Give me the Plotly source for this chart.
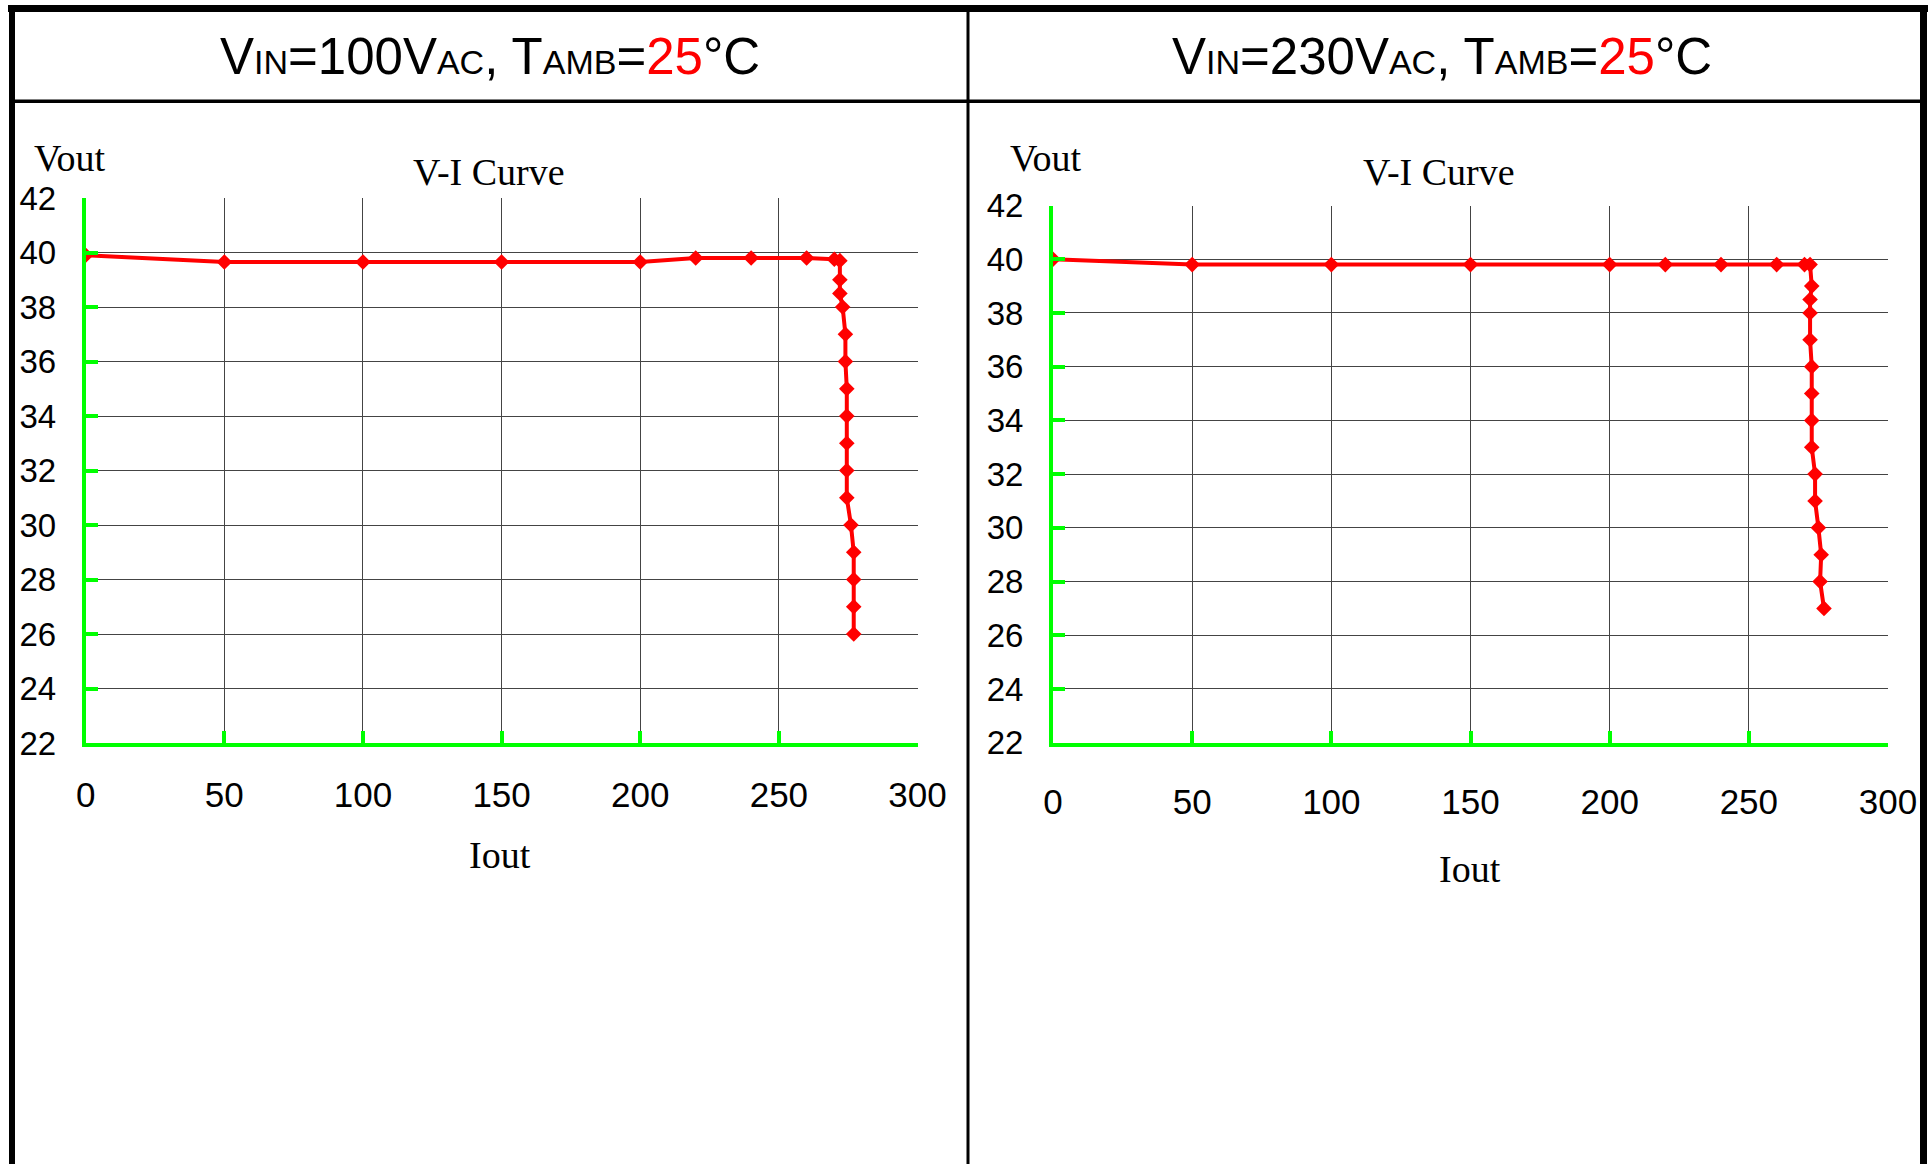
import plotly.graph_objects as go

# ---- data: output voltage vs output current ----
iout_100 = [0, 50, 100, 150, 200, 220, 240, 260, 270, 272, 272, 272, 273, 274, 274,
            274.5, 274.5, 274.5, 274.5, 274.5, 276, 277, 277, 277, 277]
vout_100 = [39.9, 39.65, 39.65, 39.65, 39.65, 39.8, 39.8, 39.8, 39.75, 39.7, 39, 38.5, 38, 37, 36,
            35, 34, 33, 32, 31, 30, 29, 28, 27, 26]

iout_230 = [0, 50, 100, 150, 200, 220, 240, 260, 270, 272, 272.6, 272, 272, 272, 272.6,
            272.6, 272.6, 272.6, 273.8, 273.8, 275, 276, 275.6, 277]
vout_230 = [40, 39.8, 39.8, 39.8, 39.8, 39.8, 39.8, 39.8, 39.8, 39.8, 39, 38.5, 38, 37, 36,
            35, 34, 33, 32, 31, 30, 29, 28, 27]

x_ticks = [0, 50, 100, 150, 200, 250, 300]
y_ticks = [22, 24, 26, 28, 30, 32, 34, 36, 38, 40, 42]

SUB = '<span style="font-size:34px">{}</span>'
panel_titles = [
    "V" + SUB.format("IN") + "=100V" + SUB.format("AC") + ", T" + SUB.format("AMB")
    + '=<span style="color:#FF0000">25</span>°C',
    "V" + SUB.format("IN") + "=230V" + SUB.format("AC") + ", T" + SUB.format("AMB")
    + '=<span style="color:#FF0000">25</span>°C',
]

W, H = 1931, 1164
SANS = "Liberation Sans Narrow, Arial Narrow, Liberation Sans, Arial"
SERIF = "Liberation Serif, Times New Roman, serif"
GREEN = "#00FF00"
RED = "#FF0000"


def px(x):
    return x / W


def py(y):
    return 1 - y / H


fig = go.Figure()

for i, (xs, ys) in enumerate([(iout_100, vout_100), (iout_230, vout_230)]):
    sfx = "" if i == 0 else str(i + 1)
    fig.add_trace(go.Scatter(
        x=xs, y=ys, mode="lines+markers",
        line=dict(color=RED, width=4),
        marker=dict(symbol="diamond", size=12, color=RED),
        xaxis="x" + sfx, yaxis="y" + sfx, showlegend=False,
        hoverinfo="x+y",
    ))

# plot-area placement and tick-label offsets for each panel (pixels)
areas = [
    dict(x0=85.7, x1=917.5, y_top=198, y_bot=743, xstand=18, ystand=19),
    dict(x0=1053, x1=1888, y_top=205.5, y_bot=742.7, xstand=25, ystand=19),
]

common_x = dict(
    range=[0, 300], tickvals=x_ticks, ticks="inside", ticklen=12, tickwidth=3.5,
    tickcolor=GREEN, showline=True, linecolor=GREEN, linewidth=4,
    showgrid=True, gridcolor="#444444", gridwidth=1, zeroline=False,
    tickfont=dict(family=SANS, size=35, color="#000000"), fixedrange=True,
    automargin=False,
)
common_y = dict(
    range=[22, 42], tickvals=y_ticks, ticks="inside", ticklen=12, tickwidth=3.5,
    tickcolor=GREEN, showline=True, linecolor=GREEN, linewidth=4,
    showgrid=True, gridcolor="#444444", gridwidth=1, zeroline=False,
    tickfont=dict(family=SANS, size=33, color="#000000"), fixedrange=True,
    automargin=False,
)

layout = dict(
    width=W, height=H, margin=dict(l=0, r=0, t=0, b=0, pad=0, autoexpand=False),
    paper_bgcolor="#FFFFFF", plot_bgcolor="#FFFFFF", showlegend=False,
)
for i, a in enumerate(areas):
    sfx = "" if i == 0 else str(i + 1)
    layout["xaxis" + sfx] = dict(common_x, domain=[px(a["x0"]), px(a["x1"])],
                                 anchor="y" + sfx, ticklabelstandoff=a["xstand"])
    layout["yaxis" + sfx] = dict(common_y, domain=[py(a["y_bot"]), py(a["y_top"])],
                                 anchor="x" + sfx, ticklabelstandoff=a["ystand"])
fig.update_layout(**layout)

# ---- table frame ----
frame = [
    (8, 5, 1928, 12),        # top border
    (9, 5, 15, H),           # left border
    (1920, 5, 1927, H),      # right border
    (966.5, 5, 969.5, H),    # centre divider
    (9, 99.5, 1927, 103),    # header separator
]
for x0, y0, x1, y1 in frame:
    fig.add_shape(type="rect", xref="paper", yref="paper",
                  x0=px(x0), x1=px(x1), y0=py(y1), y1=py(y0),
                  fillcolor="#000000", line=dict(width=0), layer="above")


# ---- texts ----
def label(text, x, y, family, size, color="#000000"):
    fig.add_annotation(text=text, x=px(x), y=py(y), xref="paper", yref="paper",
                       showarrow=False, xanchor="center", yanchor="middle",
                       font=dict(family=family, size=size, color=color))


label(panel_titles[0], 490, 56, SANS, 51)
label(panel_titles[1], 1442, 56, SANS, 51)

label("V-I Curve", 489, 172, SERIF, 38)
label("V-I Curve", 1439, 172, SERIF, 38)
label("Vout", 70, 158, SERIF, 38)
label("Vout", 1046, 158, SERIF, 38)
label("Iout", 500, 855, SERIF, 38)
label("Iout", 1470, 869, SERIF, 38)

fig.write_html(
    "out.html",
    config={"responsive": False, "displayModeBar": False},
    post_script=(
        "document.documentElement.style.margin='0';"
        "document.body.style.margin='0';"
        "document.body.style.padding='0';"
        "document.documentElement.style.overflow='hidden';"
        "document.body.style.overflow='hidden';"
    ),
)
